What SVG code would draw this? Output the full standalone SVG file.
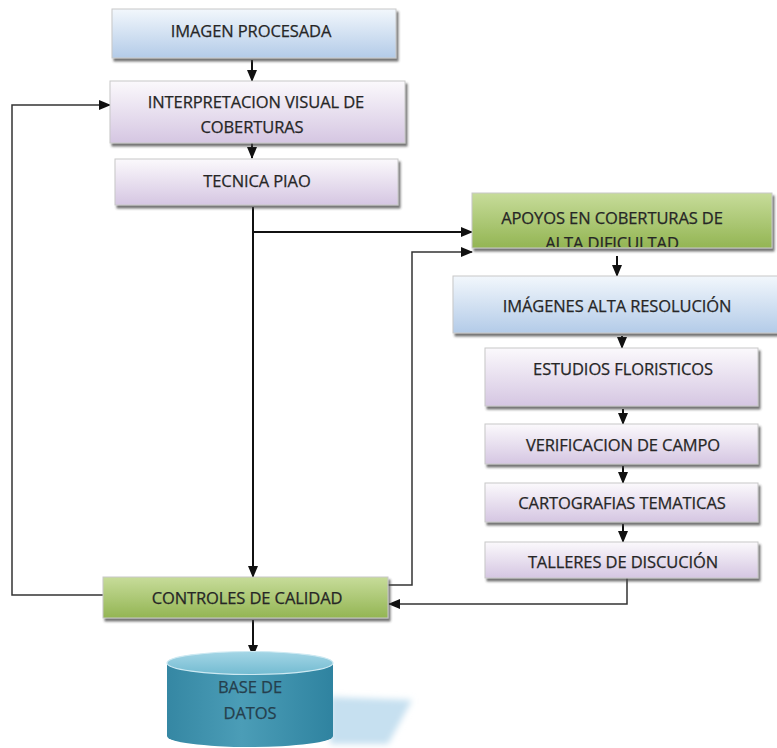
<svg xmlns="http://www.w3.org/2000/svg" width="777" height="748" viewBox="0 0 777 748">
  <defs>
    <linearGradient id="gBlue" x1="0" y1="0" x2="0" y2="1">
      <stop offset="0" stop-color="#f2f7fc"/>
      <stop offset="1" stop-color="#b3cbe8"/>
    </linearGradient>
    <linearGradient id="gPurple" x1="0" y1="0" x2="0" y2="1">
      <stop offset="0" stop-color="#fbf9fc"/>
      <stop offset="1" stop-color="#d5c6e2"/>
    </linearGradient>
    <linearGradient id="gGreen" x1="0" y1="0" x2="0" y2="1">
      <stop offset="0" stop-color="#c7dc9a"/>
      <stop offset="1" stop-color="#93b553"/>
    </linearGradient>
    <linearGradient id="gCyl" x1="0" y1="0" x2="1" y2="0">
      <stop offset="0" stop-color="#3587a3"/>
      <stop offset="0.45" stop-color="#4b9db7"/>
      <stop offset="1" stop-color="#2f83a0"/>
    </linearGradient>
    <linearGradient id="gCylTop" x1="0" y1="0" x2="0" y2="1">
      <stop offset="0" stop-color="#a4d6e6"/>
      <stop offset="1" stop-color="#73bbd1"/>
    </linearGradient>
    <filter id="shadow" x="-5%" y="-20%" width="112%" height="150%">
      <feDropShadow dx="2" dy="3" stdDeviation="1.2" flood-color="#444" flood-opacity="0.75"/>
    </filter>
    <filter id="soft" x="-20%" y="-20%" width="140%" height="140%">
      <feGaussianBlur stdDeviation="3"/>
    </filter>
    <marker id="arrow" viewBox="0 0 12 10" refX="11" refY="5" markerWidth="12" markerHeight="10" markerUnits="userSpaceOnUse" orient="auto">
      <path d="M0,0 L12,5 L0,10 z" fill="#111"/>
    </marker>
    <clipPath id="clipApoyos">
      <rect x="472" y="193" width="300" height="54"/>
    </clipPath>
  </defs>
  <style>
    .box { stroke: #c8c8c8; stroke-width: 1; filter: url(#shadow); }
    .blue { fill: url(#gBlue); }
    .purple { fill: url(#gPurple); }
    .green { fill: url(#gGreen); }
    .lbl { font-family: "Open Sans", "Liberation Sans", sans-serif; font-size: 16.5px; letter-spacing: -0.1px; fill: #262626; stroke: #262626; stroke-width: 0.25; text-anchor: middle; }
    .db { fill: #253f4d; stroke: #253f4d; }
    .conn { fill: none; stroke: #111; stroke-width: 2; }
    .conn2 { fill: none; stroke: #333; stroke-width: 1.5; }
  </style>

  <rect width="777" height="748" fill="#ffffff"/>

  <!-- connectors -->
  <g id="connectors">
    <line class="conn" x1="252" y1="60" x2="252" y2="81" marker-end="url(#arrow)"/>
    <line class="conn" x1="252" y1="136" x2="252" y2="158" marker-end="url(#arrow)"/>
    <line class="conn" x1="253" y1="207" x2="253" y2="577" marker-end="url(#arrow)"/>
    <polyline class="conn" points="253,232 472,232" marker-end="url(#arrow)"/>
    <polyline class="conn2" points="388,585 412,585 412,252 472,252" marker-end="url(#arrow)"/>
    <polyline class="conn2" points="103,595 12,595 12,105 110,105" marker-end="url(#arrow)"/>
    <line class="conn" x1="617" y1="256" x2="617" y2="276" marker-end="url(#arrow)"/>
    <line class="conn" x1="622" y1="336" x2="622" y2="348" marker-end="url(#arrow)"/>
    <line class="conn" x1="623" y1="409" x2="623" y2="424" marker-end="url(#arrow)"/>
    <line class="conn" x1="623" y1="466" x2="623" y2="483" marker-end="url(#arrow)"/>
    <line class="conn" x1="623" y1="524" x2="623" y2="542" marker-end="url(#arrow)"/>
    <polyline class="conn2" points="627,572 627,604 389,604" marker-end="url(#arrow)"/>
    <line class="conn" x1="253" y1="620" x2="253" y2="656" marker-end="url(#arrow)"/>
  </g>

  <g id="imagen-procesada">
    <rect class="box blue" x="112" y="9" width="284" height="49"/>
    <text class="lbl" x="251" y="37">IMAGEN PROCESADA</text>
  </g>

  <g id="interpretacion">
    <rect class="box purple" x="110" y="81" width="295" height="62"/>
    <text class="lbl" x="256" y="108">INTERPRETACION VISUAL DE</text>
    <text class="lbl" x="252" y="133">COBERTURAS</text>
  </g>

  <g id="tecnica-piao">
    <rect class="box purple" x="115" y="159" width="283" height="46"/>
    <text class="lbl" x="257" y="187">TECNICA PIAO</text>
  </g>

  <g id="apoyos">
    <rect class="box green" x="472" y="193" width="300" height="55"/>
    <text class="lbl" x="612" y="224">APOYOS EN COBERTURAS DE</text>
    <text class="lbl" x="612" y="249" clip-path="url(#clipApoyos)">ALTA DIFICULTAD</text>
  </g>

  <g id="imagenes-alta-resolucion">
    <rect class="box blue" x="453" y="276" width="330" height="57"/>
    <text class="lbl" x="617" y="312">IMÁGENES ALTA RESOLUCIÓN</text>
  </g>

  <g id="estudios-floristicos">
    <rect class="box purple" x="485" y="348" width="273" height="58"/>
    <text class="lbl" x="623" y="375">ESTUDIOS  FLORISTICOS</text>
  </g>

  <g id="verificacion-campo">
    <rect class="box purple" x="485" y="424" width="273" height="40"/>
    <text class="lbl" x="623" y="451">VERIFICACION DE CAMPO</text>
  </g>

  <g id="cartografias-tematicas">
    <rect class="box purple" x="485" y="483" width="273" height="39"/>
    <text class="lbl" x="622" y="509">CARTOGRAFIAS TEMATICAS</text>
  </g>

  <g id="talleres-discucion">
    <rect class="box purple" x="485" y="542" width="273" height="36"/>
    <text class="lbl" x="623" y="568">TALLERES DE DISCUCIÓN</text>
  </g>

  <g id="controles-calidad">
    <rect class="box green" x="103" y="577" width="285" height="41"/>
    <text class="lbl" x="247" y="604">CONTROLES DE CALIDAD</text>
  </g>

  <g id="base-de-datos">
    <path d="M330,697 L412,700 L388,744 L330,744 z" fill="#c6e0f0" filter="url(#soft)"/>
    <path d="M167,663 L167,736 A83,11 0 0 0 333,736 L333,663 z" fill="url(#gCyl)"/>
    <ellipse cx="250" cy="663" rx="83" ry="11.5" fill="url(#gCylTop)" stroke="#cde9f2" stroke-width="1.2"/>
    <text class="lbl db" x="250" y="693">BASE DE</text>
    <text class="lbl db" x="250" y="719">DATOS</text>
  </g>
</svg>
